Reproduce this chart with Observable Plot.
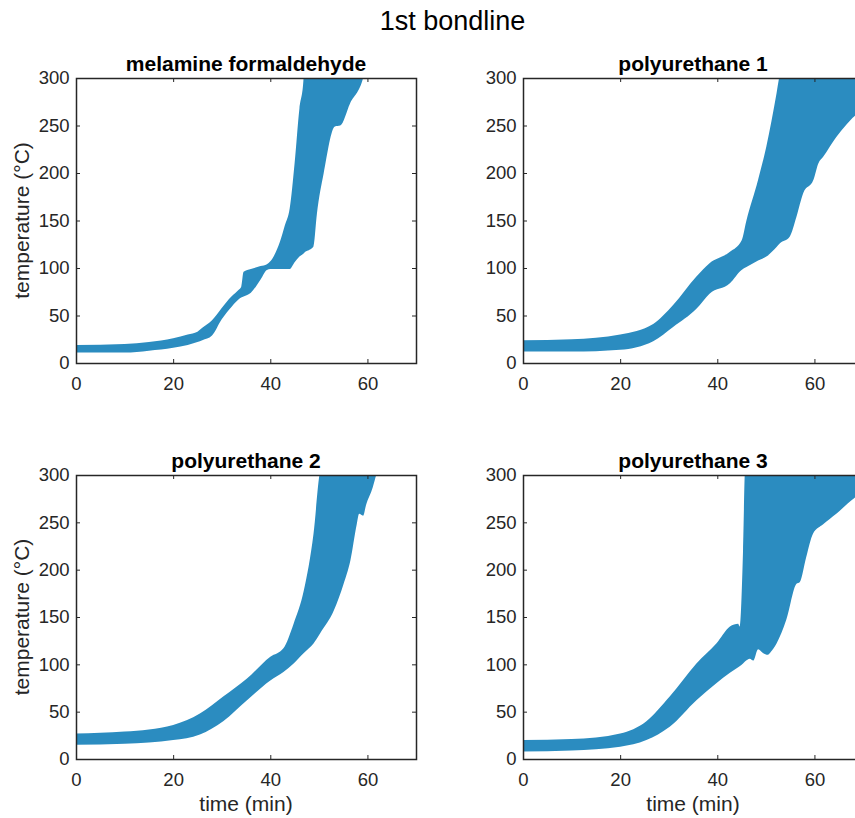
<!DOCTYPE html>
<html><head><meta charset="utf-8">
<script src="https://cdn.jsdelivr.net/npm/d3@7"></script>
<script src="https://cdn.jsdelivr.net/npm/@observablehq/plot@0.6"></script>
<style>
html,body{margin:0;padding:0;background:#fff;}
body{width:855px;height:818px;overflow:hidden;position:relative;font-family:"Liberation Sans",Arial,Helvetica,sans-serif;}
#chart{position:absolute;left:0;top:0;width:855px;height:818px;overflow:hidden;}
.panel{position:absolute;}
#labels{position:absolute;left:0;top:0;pointer-events:none;}
</style></head><body><div id="chart"></div>
<script>
// ---- texts ----
const figureTitle = "1st bondline";
const panelTitles = ["melamine formaldehyde", "polyurethane 1", "polyurethane 2", "polyurethane 3"];
const xLabel = "time (min)";
const yLabel = "temperature (°C)";
const xTicks = [0, 20, 40, 60];
const yTicks = [0, 50, 100, 150, 200, 250, 300];

// ---- band envelopes (lower / upper edge of the bundle of curves) ----
const mfTime = [0, 10, 15, 20, 23, 25, 26, 28, 30, 32, 33.5, 34, 34.5, 36, 38, 39.3, 40, 42, 43, 44, 45, 46, 46.8, 47.2, 48, 48.6, 48.9, 49.6, 51, 53.3, 54.4, 56.4, 59.1, 60];
const mfHigh = [19, 20, 22, 26, 30, 33, 37, 45, 58, 70, 77, 80, 96, 99, 102, 104, 107, 128, 145, 163, 210, 268, 296, 330, 330, 330, 330, 330, 330, 330, 330, 330, 330, 330];
const mfLow  = [11, 11, 13, 16, 19, 22, 24, 29, 46, 59, 67, 69, 70, 74, 88, 98, 99, 99, 99, 99, 106, 112, 115, 117, 119, 121, 123, 157, 200, 249, 250, 273, 300, 320];

const pu1Time = [0, 10, 20, 26.8, 30.9, 35.7, 38.4, 42.6, 45, 46, 48.4, 50.1, 52.2, 52.9, 54.9, 56.3, 57.7, 59.8, 60.8, 61.8, 64.5, 66.6, 68.3, 70];
const pu1High = [24, 25, 30, 41, 61, 91, 105, 117, 129, 150, 193, 228, 284, 305, 330, 330, 330, 330, 330, 330, 330, 330, 330, 330];
const pu1Low  = [12, 12, 14, 23, 38, 57, 73, 84, 98, 101, 108, 112, 122, 126, 133, 154, 179, 193, 210, 217, 238, 251, 260, 265];

const pu2Time = [0, 10, 20, 25.5, 30.3, 35.2, 40, 42.7, 44.8, 46.9, 48.9, 50.3, 53.1, 55.1, 56.5, 57.8, 58.3, 59.1, 59.7, 61.1, 61.8, 63];
const pu2High = [27, 29, 36, 48, 66, 85, 108, 117, 143, 178, 238, 305, 330, 330, 330, 330, 330, 330, 330, 330, 330, 330];
const pu2Low  = [15, 16, 20, 26, 40, 62, 83, 92, 101, 112, 122, 133, 157, 185, 210, 248, 259, 257, 268, 287, 300, 320];

const pu3Time = [0, 10, 20, 25.4, 30.2, 35.7, 39.8, 42.6, 44.3, 44.6, 45.3, 45.7, 46.7, 47.4, 48.4, 49.4, 50.4, 51, 52.2, 54.2, 56.3, 57, 58.3, 59.7, 61.8, 64.5, 68.3, 70];
const pu3High = [20, 21, 27, 40, 66, 101, 122, 140, 143, 140, 220, 305, 330, 330, 330, 330, 330, 330, 330, 330, 330, 330, 330, 330, 330, 330, 330, 330];
const pu3Low  = [8, 9, 13, 20, 34, 62, 80, 91, 97, 98, 101, 103, 106, 104, 116, 112, 110, 113, 122, 147, 185, 187, 213, 238, 248, 259, 276, 281];

const series = [
  {t: mfTime, lo: mfLow, hi: mfHigh},
  {t: pu1Time, lo: pu1Low, hi: pu1High},
  {t: pu2Time, lo: pu2Low, hi: pu2High},
  {t: pu3Time, lo: pu3Low, hi: pu3High}
];

// ---- layout ----
const BAND = "#2b8cc0";
const INK = "#262626";
const layout = [
  {left: 0,   top: 0,   width: 430, height: 400, mL: 76, mT: 78, mR: 14, mB: 37, xl: false, yl: true},
  {left: 430, top: 0,   width: 450, height: 400, mL: 93, mT: 78, mR: 17, mB: 37, xl: false, yl: false},
  {left: 0,   top: 400, width: 430, height: 418, mL: 76, mT: 75, mR: 14, mB: 59, xl: true, yl: true},
  {left: 430, top: 400, width: 450, height: 418, mL: 93, mT: 75, mR: 17, mB: 59, xl: true, yl: false}
];

const chart = document.getElementById("chart");

series.forEach((s, i) => {
  const L = layout[i];
  const pw = L.width - L.mL - L.mR;
  const ph = L.height - L.mT - L.mB;
  const rows = s.t.map((t, k) => ({t, lo: s.lo[k], hi: s.hi[k]}));
  const svg = Plot.plot({
    width: L.width, height: L.height,
    marginLeft: L.mL, marginTop: L.mT, marginRight: L.mR, marginBottom: L.mB,
    style: {fontFamily: '"Liberation Sans", Arial, Helvetica, sans-serif', fontSize: "18.5px", color: INK, background: "transparent"},
    x: {domain: [0, 70], ticks: xTicks, tickSize: 0, tickPadding: 13, label: null},
    y: {domain: [0, 300], ticks: yTicks, tickSize: 0, tickPadding: 7, label: null},
    marks: [
      Plot.areaY(rows, {x: "t", y1: "lo", y2: "hi", fill: BAND, curve: "monotone-x", clip: true}),
      Plot.tickX(xTicks, {x: d => d, insetTop: ph - 4, stroke: INK, strokeWidth: 1}),
      Plot.tickX(xTicks, {x: d => d, insetBottom: ph - 4, stroke: INK, strokeWidth: 1}),
      Plot.tickY(yTicks, {y: d => d, insetRight: pw - 4, stroke: INK, strokeWidth: 1}),
      Plot.tickY(yTicks, {y: d => d, insetLeft: pw - 4, stroke: INK, strokeWidth: 1}),
      Plot.frame({stroke: INK, strokeWidth: 1.5})
    ]
  });
  svg.classList.add("panel");
  svg.style.left = L.left + "px";
  svg.style.top = L.top + "px";
  chart.appendChild(svg);
});

// ---- text overlay ----
const ov = d3.select(chart).append("svg").attr("id", "labels")
  .attr("width", 855).attr("height", 818)
  .style("font-family", '"Liberation Sans", Arial, Helvetica, sans-serif');

ov.append("text").attr("x", 452.5).attr("y", 30).attr("text-anchor", "middle")
  .attr("font-size", 27).attr("fill", "#000").text(figureTitle);

const centersX = [246, 693, 246, 693];
const titleY = [71, 71, 468, 468];
const centersY = [220.5, 220.5, 617, 617];
panelTitles.forEach((t, i) => {
  ov.append("text").attr("x", centersX[i]).attr("y", titleY[i]).attr("text-anchor", "middle")
    .attr("font-size", 21).attr("font-weight", "bold").attr("fill", "#000").text(t);
  if (layout[i].xl) {
    ov.append("text").attr("x", centersX[i]).attr("y", 811).attr("text-anchor", "middle")
      .attr("font-size", 21).attr("fill", INK).text(xLabel);
  }
  if (layout[i].yl) {
    ov.append("text").attr("transform", `translate(29,${centersY[i]}) rotate(-90)`).attr("text-anchor", "middle")
      .attr("font-size", 21).attr("fill", INK).text(yLabel);
  }
});
</script></body></html>
